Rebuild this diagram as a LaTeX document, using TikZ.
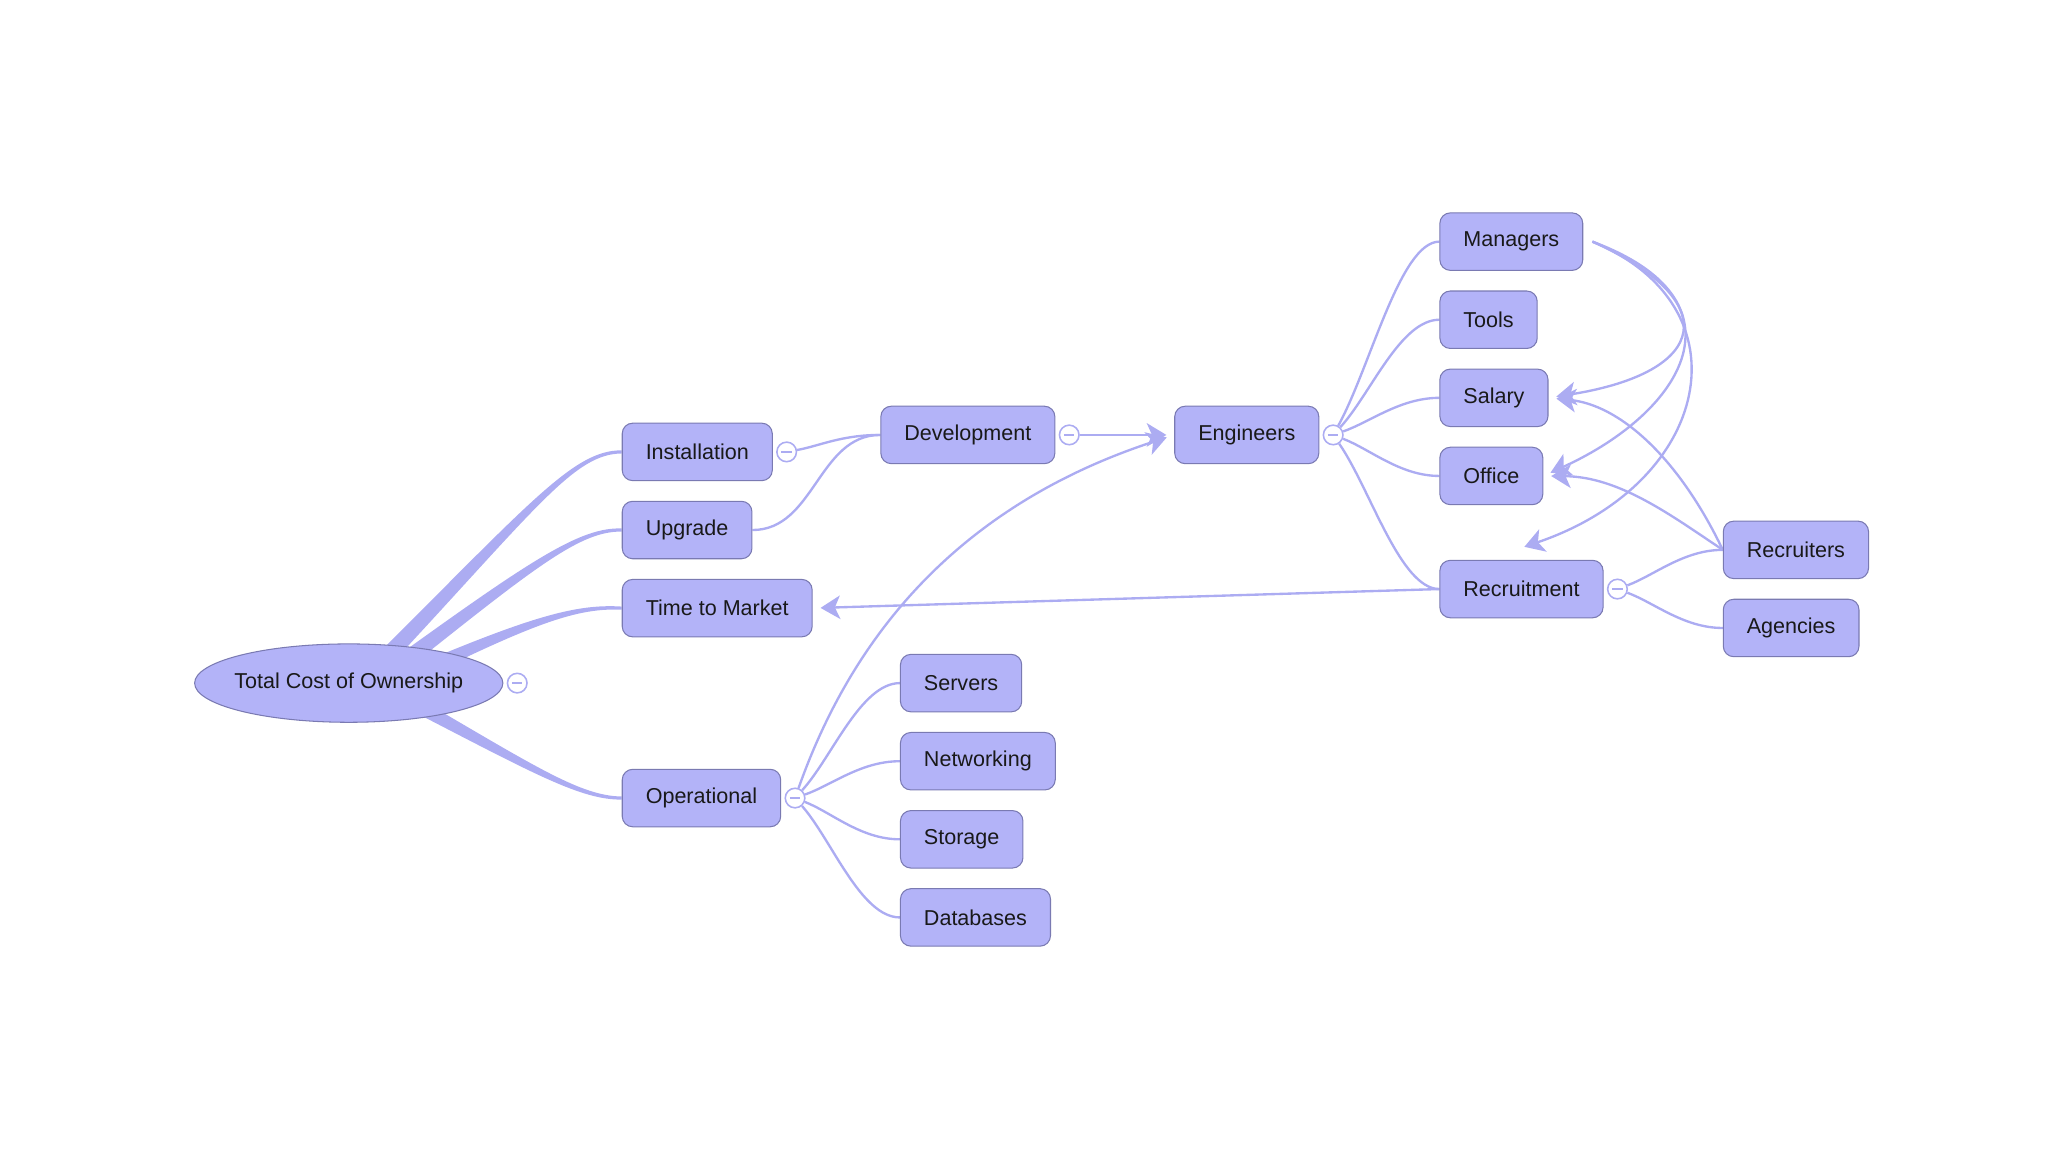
\documentclass[tikz,border=0pt]{standalone}
\usepackage{fontspec}
\setmainfont{Liberation Sans}
\usepackage{xcolor}
\usepackage{tikz}
\usetikzlibrary{arrows.meta, positioning, shapes.geometric, calc, backgrounds}
\definecolor{topicfill}{RGB}{179,179,248}
\definecolor{topicline}{RGB}{122,122,178}
\definecolor{linkblue}{RGB}{172,172,242}
\newcommand{\trunk}[5]{% base, control 1, control 2, target, half width at base
  \fill[trunk] ($(#1)+(#5)$) .. controls ($(#2)+0.5*(#5)$) and ($(#3)+(0,-1.5)$) .. ($(#4)+(0,-1.2)$)
    -- ($(#4)+(0,1.2)$) .. controls ($(#3)+(0,1.5)$) and ($(#2)-0.5*(#5)$) .. ($(#1)-(#5)$) -- cycle;}

\begin{document}
\begin{tikzpicture}[x=1pt, y=-1pt,
    topic/.style={rectangle, rounded corners=8pt, draw=topicline, fill=topicfill, line width=0.8pt,
                  minimum height=44pt, inner xsep=18pt, anchor=west, text=black!90,
                  font=\fontsize{16.5}{20}\selectfont},
    fold/.style={circle, draw=linkblue, fill=white, line width=1.2pt, minimum size=15pt, inner sep=0pt,
                 path picture={\draw[linkblue, line width=1pt] ([xshift=-4pt]path picture bounding box.center)
                                -- ([xshift=4pt]path picture bounding box.center);}},
    trunk/.style={fill=linkblue},
    twig/.style={linkblue, line width=1.8pt,
                 to path={.. controls ($(\tikztostart)!0.35!(\tikztotarget)$) and ($(\tikztotarget)+(-30,0)$) .. (\tikztotarget)}},
    link/.style={linkblue, line width=1.8pt, shorten >=6pt, -{Stealth[length=15pt, width=18pt, inset=4pt]}}
]
\useasboundingbox (0,0) rectangle (1568,882);

% root and first ring
\node[ellipse, draw=topicline, fill=topicfill, line width=0.8pt, minimum width=236pt, minimum height=60pt,
      inner xsep=-8pt, inner ysep=0pt, text=black!90, font=\fontsize{16.5}{20}\selectfont] (tco) at (267,523) {Total Cost of Ownership};
\node[fold, right=2.5pt of tco] (tcofold) {};
\node[topic] (inst) at (476,346) {Installation};
\node[topic, below=15pt of inst.south west, anchor=north west] (upg) {Upgrade};
\node[topic, below=15pt of upg.south west, anchor=north west] (ttm) {Time to Market};
\node[topic] (oper) at (476,611) {Operational};
\node[fold, right=2.5pt of inst] (instfold) {};
\node[fold, right=2.5pt of oper] (operfold) {};

% development chain
\node[topic] (dev) at (674,333) {Development};
\node[fold, right=2.5pt of dev] (devfold) {};
\node[topic] (eng) at (899,333) {Engineers};
\node[fold, right=2.5pt of eng] (engfold) {};

% engineers column
\node[topic] (mgr) at (1102,185) {Managers};
\node[topic, below=15pt of mgr.south west, anchor=north west] (tools) {Tools};
\node[topic, below=15pt of tools.south west, anchor=north west] (salary) {Salary};
\node[topic, below=15pt of salary.south west, anchor=north west] (office) {Office};
\node[topic] (recr) at (1102,451) {Recruitment};
\node[fold, right=2.5pt of recr] (recrfold) {};
\node[topic] (recrs) at (1319,421) {Recruiters};
\node[topic, below=15pt of recrs.south west, anchor=north west] (agen) {Agencies};

% operational column
\node[topic] (serv) at (689,523) {Servers};
\node[topic, below=15pt of serv.south west, anchor=north west] (netw) {Networking};
\node[topic, below=15pt of netw.south west, anchor=north west] (stor) {Storage};
\node[topic, below=15pt of stor.south west, anchor=north west] (db) {Databases};

\begin{scope}[on background layer]
  % tapered branches out of the root
  \coordinate (b1) at ($(tco)+(27,-18)$);
  \coordinate (b2) at ($(tco)+(44,-18)$);
  \coordinate (b3) at ($(tco)+(68,-15)$);
  \coordinate (b4) at ($(tco)+(52,17)$);
  \trunk{b1}{410,385}{440,346}{inst.west}{-4.5,-4.5}
  \trunk{b2}{410,430}{445,405}{upg.west}{-3.5,-5}
  \trunk{b3}{415,472}{445,464}{ttm.west}{-1.5,-5}
  \trunk{b4}{410,590}{445,611}{oper.west}{2,-5}

  \draw[twig] (instfold) to (dev.west);
  \draw[linkblue, line width=1.8pt] (upg.east) to[out=0, in=180] (dev.west);
  \foreach \kid in {mgr, tools, salary, office, recr}
    \draw[twig] (engfold) to (\kid.west);
  \foreach \kid in {serv, netw, stor, db}
    \draw[twig] (operfold) to (\kid.west);
  \foreach \kid in {recrs, agen}
    \draw[twig] (recrfold) to (\kid.west);

  % cross links
  \draw[link] (devfold) -- (eng.west);
  \draw[link] (operfold) .. controls (655,480) and (740,385) .. (eng.west);
  \draw[link] (recr.west) -- (ttm.east);
  \draw[link] ([xshift=7pt]mgr.east) .. controls (1320,230) and (1310,285) .. (salary.east);
  \draw[link] ([xshift=7pt]mgr.east) .. controls (1340,230) and (1290,315) .. (office.east);
  \draw[link] ([xshift=7pt]mgr.east) .. controls (1340,235) and (1310,370) .. ([xshift=-3.5pt, yshift=8pt]recr.north);
  \draw[link] (recrs.west) .. controls (1285,350) and (1240,310) .. (salary.east);
  \draw[link] (recrs.west) .. controls (1280,395) and (1240,365) .. (office.east);
\end{scope}
\end{tikzpicture}
\end{document}
